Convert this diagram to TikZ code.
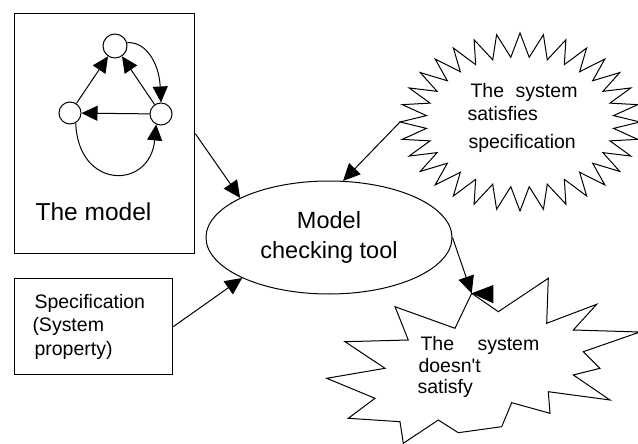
\documentclass[tikz,border=0pt]{standalone}
\usepackage{fontspec}
\setmainfont{Liberation Sans}
\usetikzlibrary{shapes.geometric,arrows.meta}
\begin{document}
\begin{tikzpicture}[x=1pt,y=-1pt,line width=1pt,
  tip/.style={-{Triangle[length=17pt,width=16pt]}},
  smalltip/.style={-{Triangle[length=16pt,width=15pt]}},
  circ/.style={circle,draw,inner sep=0pt},
  box/.style={draw,line width=1.3pt,inner sep=0pt,anchor=north west},
  lbl/.style={inner sep=0pt,anchor=base west,font=\fontsize{19.5}{22}\selectfont},
  lblr/.style={lbl,anchor=base east}]
\useasboundingbox (0,0) rectangle (638,444);

% the model box with its small graph
\node[box,minimum width=180pt,minimum height=240pt] (model) at (14,13) {};
\node[inner sep=0pt,anchor=base,font=\fontsize{24.5}{28}\selectfont] (mlabel) at (93.5,220) {The model};
\node[circ,minimum size=24pt] (T) at (115,46) {};
\node[circ,minimum size=22pt] (L) at (70,113) {};
\node[circ,minimum size=22pt] (R) at (161,114) {};
\draw[smalltip] (L) -- (T);
\draw[smalltip] (R) -- (T);
\draw[smalltip] (R) -- (L);
\draw[smalltip] (T.15) .. controls (145,41) and (159,62) .. (R.north);
\draw[smalltip] (L.-60) .. controls (78,190) and (150,190) .. (R.-115);

% specification box
\node[box,minimum width=158pt,minimum height=96pt] (spec) at (14,278) {};
\node[lbl] (sp1) at (34,308) {Specification};
\node[lbl] (sp2) at (32,331) {(System};
\node[lbl] (sp3) at (34,355) {property)};

% model checking tool
\node[ellipse,draw,minimum width=246pt,minimum height=113pt,inner sep=0pt,align=center,
      font=\fontsize{23.5}{30}\selectfont] (tool) at (329,237.5) {Model\\checking tool};

% star 1: satisfies
\coordinate (s1tip) at (400,122);
\begin{scope}
\clip (0,0) rectangle (638,444);
\draw (s1tip) \foreach \i [evaluate=\i as \rx using {mod(\i,2)==0?120:94},
                          evaluate=\i as \ry using {mod(\i,2)==0?89:65}] in {1,...,63}
   { -- ({520+\rx*cos(180+\i*5.625)},{122+\ry*sin(180+\i*5.625)}) } -- cycle;
\end{scope}
\node[lbl] (t1a) at (470,98) {The};
\node[lblr] (t1b) at (578,98) {system};
\node[lbl] (t1c) at (467,121) {satisfies};
\node[lbl] (t1d) at (468,148) {specification};

% star 2: doesn't satisfy
\coordinate (s2tip) at (471.7,293.3);
\draw (s2tip) -- (498.3,311.7) -- (548.3,278.3) -- (546.7,323.3) -- (596.7,304.3)
  -- (573.3,330) -- (640,332) -- (583.3,351.7) -- (600,368.3) -- (573.3,375)
  -- (610,400) -- (548.3,391.7) -- (550,413.3) -- (511.7,402.7) -- (501.7,426.7)
  -- (458.3,432.7) -- (438.3,420) -- (403.3,443.3) -- (400,421.7) -- (348.3,418.3)
  -- (375,398.3) -- (326.7,378.3) -- (385,368.3) -- (345,341.7) -- (408.3,340)
  -- (395,306.7) -- (455,328.3) -- cycle;
\fill (s2tip) -- (493.3,285) -- (493.3,303.3) -- cycle;
\node[lbl] (t2a) at (420,350) {The};
\node[lbl] (t2b) at (477,350) {system};
\node[lbl] (t2c) at (418,372) {doesn\textquotesingle t};
\node[lbl] (t2d) at (417,393) {satisfy};

% connectors
\draw[tip] (model.east) -- (tool.156);
\draw[tip] (spec.east) -- (tool.205);
\draw[tip] (s1tip) -- (tool.76);
\draw[tip] (tool.east) -- (s2tip);
\end{tikzpicture}
\end{document}
